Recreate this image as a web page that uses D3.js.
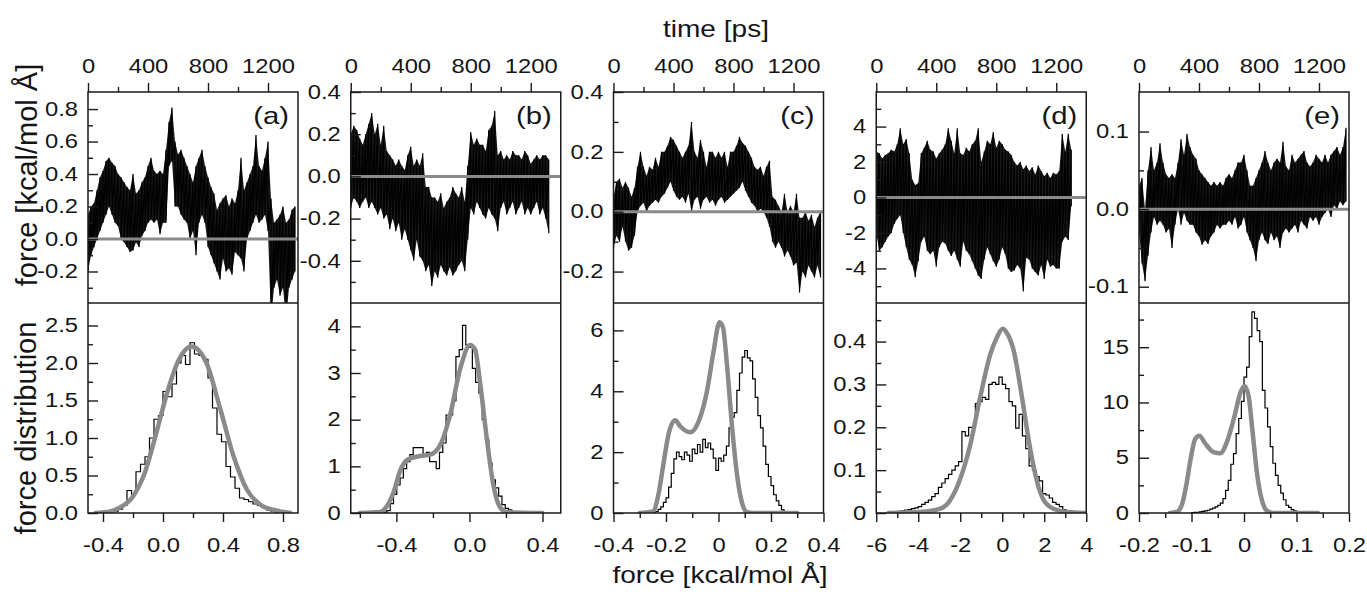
<!DOCTYPE html>
<html>
<head>
<meta charset="utf-8">
<script src="https://cdn.jsdelivr.net/npm/d3@7"></script>
<style>
  body { margin: 0; background: #fff; }
  text { font-family: "Liberation Sans", Arial, sans-serif; fill: #151515; }
  .sx { transform-box: fill-box; transform-origin: center; transform: scaleX(1.22); }
  .sxr { transform-box: fill-box; transform-origin: right center; transform: scaleX(1.22); }
</style>
</head>
<body>
<svg id="chart" width="1367" height="592"></svg>
<script>
// force traces: upper / lower envelope read every 20 ps
const tStep = 20;

const traceAHi = [0.15,0.2,0.22,0.3,0.38,0.42,0.48,0.5,0.47,0.45,
  0.4,0.38,0.35,0.32,0.3,0.4,0.28,0.3,0.35,0.38,
  0.45,0.5,0.42,0.4,0.42,0.4,0.55,0.72,0.81,0.6,
  0.52,0.55,0.5,0.45,0.4,0.35,0.45,0.5,0.55,0.45,
  0.38,0.32,0.28,0.18,0.22,0.25,0.27,0.2,0.25,0.22,
  0.3,0.5,0.3,0.35,0.4,0.45,0.64,0.45,0.42,0.5,
  0.6,0.25,0.1,0.12,0.15,0.2,0.1,0.12,0.18,0.2];
const traceALo = [-0.2,-0.1,-0.05,0.0,0.05,0.1,0.15,0.2,0.15,0.1,
  0.08,0.0,-0.02,-0.05,-0.08,-0.07,-0.02,-0.05,0.02,0.05,
  0.1,0.12,0.1,0.12,0.03,0.1,0.1,0.45,0.48,0.2,
  0.2,0.15,0.12,0.1,0.0,0.05,-0.1,0.1,0.15,0.1,
  -0.05,-0.1,-0.15,-0.2,-0.25,-0.12,-0.2,-0.18,-0.22,-0.08,
  -0.1,-0.12,-0.2,0.0,0.05,0.1,0.15,0.1,0.12,0.15,
  0.05,-0.5,-0.3,-0.25,-0.35,-0.3,-0.5,-0.3,-0.25,-0.2];

const traceBHi = [0.2,0.24,0.22,0.18,0.15,0.2,0.25,0.3,0.2,0.25,
  0.15,0.24,0.12,0.1,0.08,0.05,0.08,0.05,0.03,0.1,
  0.14,0.05,0.08,0.05,0.11,-0.05,-0.05,-0.1,-0.1,-0.12,
  -0.08,-0.15,-0.12,-0.1,-0.05,-0.08,-0.1,-0.05,-0.12,0.05,
  0.21,0.15,0.18,0.15,0.15,0.12,0.22,0.24,0.31,0.1,
  0.12,0.08,0.1,0.08,0.12,0.1,0.1,0.08,0.12,0.1,
  0.06,0.08,0.1,0.08,0.1,0.1,0.08];
const traceBLo = [-0.15,-0.1,-0.12,-0.15,-0.12,-0.1,-0.15,-0.12,-0.15,-0.18,
  -0.15,-0.2,-0.18,-0.25,-0.2,-0.26,-0.22,-0.3,-0.25,-0.3,
  -0.35,-0.4,-0.3,-0.38,-0.4,-0.45,-0.42,-0.52,-0.45,-0.48,
  -0.42,-0.45,-0.47,-0.43,-0.47,-0.45,-0.42,-0.4,-0.45,-0.3,
  -0.15,-0.18,-0.12,-0.15,-0.18,-0.2,-0.15,-0.18,-0.2,-0.26,
  -0.15,-0.12,-0.18,-0.15,-0.12,-0.18,-0.15,-0.12,-0.18,-0.15,
  -0.18,-0.15,-0.12,-0.18,-0.15,-0.2,-0.27];

const traceCHi = [0.05,0.1,0.11,0.08,0.1,0.08,0.05,0.08,0.15,0.2,
  0.15,0.12,0.15,0.14,0.18,0.15,0.2,0.2,0.22,0.25,
  0.24,0.22,0.2,0.18,0.2,0.22,0.3,0.2,0.18,0.24,
  0.2,0.15,0.2,0.2,0.18,0.2,0.18,0.2,0.15,0.2,
  0.2,0.22,0.25,0.23,0.22,0.2,0.18,0.15,0.14,0.15,
  0.12,0.15,0.17,0.05,0.04,0.02,0.0,0.06,0.0,0.02,
  0.0,0.06,-0.02,-0.02,0.0,-0.03,-0.01,-0.05,-0.02,0.0];
const traceCLo = [-0.12,-0.08,-0.1,-0.05,-0.1,-0.13,-0.12,-0.08,0.0,0.02,
  0.03,0.0,0.02,0.03,0.04,0.03,0.05,0.06,0.08,0.1,
  0.07,0.05,0.04,0.05,0.03,0.06,0.0,0.04,0.05,0.01,
  0.04,0.05,0.03,0.04,0.02,0.04,0.05,0.03,0.04,0.05,
  0.06,0.07,0.08,0.1,0.07,0.05,0.03,0.02,0.0,0.01,
  0.0,-0.02,-0.05,-0.1,-0.12,-0.1,-0.12,-0.15,-0.13,-0.15,
  -0.18,-0.17,-0.27,-0.2,-0.22,-0.18,-0.2,-0.22,-0.18,-0.22];

const traceDHi = [2.6,2.5,2.2,2.4,2.5,2.7,2.6,3.0,3.9,3.0,
  3.3,2.5,1.0,0.7,0.8,2.5,2.8,3.2,2.7,2.6,
  2.2,2.5,2.7,3.0,3.9,3.2,2.5,3.9,2.5,2.4,
  2.8,2.6,3.0,3.2,3.9,2.0,2.6,3.2,3.0,3.7,
  2.8,3.2,3.0,2.7,2.6,2.4,2.0,1.8,2.0,1.6,
  1.8,1.5,1.7,1.3,1.8,1.5,1.2,1.4,1.1,1.4,
  1.3,1.5,3.6,2.6,3.6,2.7];
const traceDLo = [-2.0,-3.0,-2.8,-2.5,-2.2,-2.0,-1.5,-1.2,-1.0,-2.0,
  -2.8,-3.5,-3.8,-4.5,-3.6,-2.5,-2.2,-3.0,-3.2,-3.0,
  -3.9,-2.8,-2.5,-2.6,-3.0,-3.3,-3.0,-3.5,-3.9,-2.5,
  -3.0,-3.2,-3.6,-4.0,-4.4,-4.6,-3.5,-2.8,-3.2,-3.6,
  -3.9,-3.5,-2.8,-3.2,-4.0,-4.2,-4.1,-3.8,-4.0,-5.3,
  -3.4,-3.5,-4.0,-4.2,-4.4,-3.8,-4.6,-3.5,-3.9,-3.8,
  -4.0,-4.0,-2.5,-2.2,-2.4,-0.5];

const traceEHi = [0.03,0.04,0.0,0.05,0.08,0.05,0.06,0.085,0.06,0.045,
  0.04,0.045,0.04,0.06,0.09,0.07,0.097,0.08,0.07,0.065,
  0.05,0.045,0.04,0.035,0.03,0.035,0.03,0.035,0.03,0.04,
  0.045,0.04,0.05,0.06,0.06,0.07,0.05,0.03,0.03,0.04,
  0.05,0.06,0.075,0.06,0.05,0.06,0.065,0.06,0.087,0.055,
  0.05,0.07,0.06,0.065,0.07,0.075,0.06,0.055,0.06,0.07,
  0.065,0.06,0.07,0.06,0.07,0.075,0.08,0.07,0.08,0.105];
const traceELo = [-0.03,-0.07,-0.093,-0.06,-0.03,-0.01,-0.02,-0.015,-0.02,-0.03,
  -0.025,-0.05,-0.02,0.0,-0.02,-0.005,-0.015,-0.02,-0.02,-0.03,
  -0.035,-0.046,-0.04,-0.045,-0.035,-0.03,-0.02,-0.025,-0.02,-0.02,
  -0.015,-0.02,-0.01,-0.025,-0.02,-0.01,-0.03,-0.04,-0.05,-0.067,
  -0.04,-0.03,-0.04,-0.045,-0.03,-0.04,-0.035,-0.05,-0.03,-0.025,
  -0.03,-0.025,-0.02,-0.03,-0.015,-0.02,-0.025,-0.01,-0.015,-0.01,
  -0.02,-0.01,-0.005,0.0,-0.01,0.005,0.0,0.01,0.005,0.01];

// force histograms: first bin edge, bin width, heights
const histAStart = -0.33, histAWidth = 0.03;
const histA = [0.02,0.05,0.1,0.3,0.25,0.55,0.65,0.75,1.0,1.25,1.3,1.62,1.55,1.72,2.0,2.1,1.98,2.27,
  2.12,2.1,2.05,1.8,1.4,1.05,0.95,0.62,0.48,0.33,0.2,0.18,0.15,0.12,0.1,0.07,0.04,0.02];
const histBStart = -0.47, histBWidth = 0.018;
const histB = [0.02,0.05,0.2,0.4,0.6,0.75,0.95,1.1,1.25,1.4,1.4,1.4,1.25,1.3,1.1,1.1,0.95,1.3,1.5,2.1,
  2.1,2.4,3.35,3.5,4.02,3.6,3.55,3.1,2.8,2.57,2.0,1.57,1.07,0.71,0.54,0.36,0.18,0.1,0.07,0.02];
const histCStart = -0.25, histCWidth = 0.01;
const histC = [0.0,0.05,0.12,0.2,0.35,0.5,0.85,1.3,1.78,2.0,1.85,1.75,2.0,1.9,1.7,2.1,1.95,2.25,2.0,2.42,
  2.15,2.3,2.1,1.8,1.4,1.8,1.7,1.9,2.2,2.8,3.15,3.3,4.03,4.6,5.12,5.34,5.1,5.0,4.41,3.8,
  3.2,2.8,2.2,1.6,1.2,0.9,0.6,0.4,0.25,0.1,0.02];
const histDStart = -5.44, histDWidth = 0.16;
const histD = [0.0,0.002,0.003,0.004,0.005,0.007,0.008,0.01,0.012,0.015,
  0.02,0.025,0.03,0.038,0.045,0.06,0.07,0.08,0.09,0.1,
  0.11,0.12,0.19,0.18,0.2,0.2,0.255,0.26,0.27,0.265,
  0.3,0.305,0.3,0.317,0.3,0.29,0.26,0.25,0.198,0.23,
  0.18,0.15,0.11,0.1,0.085,0.075,0.045,0.042,0.035,0.025,
  0.02,0.015,0.008,0.005];
const histEStart = -0.1, histEWidth = 0.005;
const histE = [0.03,0.05,0.07,0.1,0.15,0.2,0.25,0.35,0.45,0.55,
  0.7,0.9,1.3,2.05,2.96,4.41,5.38,7.19,8.55,10.1,
  12.3,13.2,15.95,18.2,17.6,16.5,15.5,11.1,9.5,7.8,
  6.0,4.5,3.4,2.5,1.8,1.2,0.7,0.5,0.3,0.2,
  0.1,0.05];

// model distributions (grey curves)
const fitAX = [-0.45,-0.35,-0.3,-0.2,-0.13,-0.04,0.02,0.1,0.19,0.29,0.38,0.47,0.56,0.65,0.74,0.85];
const fitAY = [0,0.02,0.06,0.22,0.49,1.1,1.55,2.02,2.22,2.0,1.4,0.76,0.31,0.11,0.04,0];
const fitBX = [-0.6,-0.49,-0.452,-0.415,-0.38,-0.335,-0.27,-0.216,-0.161,-0.106,-0.05,0.003,0.031,0.058,0.095,0.131,0.168,0.204,0.4];
const fitBY = [0,0.02,0.15,0.45,0.9,1.15,1.22,1.25,1.45,2.1,3.1,3.6,3.5,2.8,1.6,0.6,0.12,0.02,0];
const fitCX = [-0.3,-0.25,-0.229,-0.21,-0.19,-0.165,-0.146,-0.108,-0.076,-0.044,-0.019,0.004,0.017,0.032,0.051,0.07,0.089,0.108,0.133,0.3];
const fitCY = [0,0.05,0.6,1.6,2.6,3.05,2.85,2.65,3.0,4.0,5.3,6.27,6.1,4.9,2.9,1.3,0.35,0.03,0,0];
const fitDX = [-5.41,-3.75,-2.95,-2.48,-2.0,-1.52,-1.05,-0.57,-0.25,0.015,0.22,0.54,0.94,1.33,1.73,2.13,2.76,3.95];
const fitDY = [0,0.003,0.01,0.03,0.08,0.16,0.27,0.37,0.41,0.43,0.42,0.38,0.27,0.15,0.06,0.02,0.005,0];
const fitEX = [-0.141,-0.128,-0.118,-0.11,-0.102,-0.093,-0.085,-0.074,-0.058,-0.045,-0.032,-0.019,-0.006,0.001,0.009,0.016,0.025,0.035,0.045,0.058,0.141];
const fitEY = [0,0.1,0.8,2.5,4.8,6.7,7.0,6.3,5.5,5.4,6.5,8.6,11.0,11.5,10.5,7.5,3.5,1.0,0.15,0,0];

// ticks
const timeTicks = [0, 400, 800, 1200];
const timeMinor = [200, 600, 1000];
const tags = ['(a)', '(b)', '(c)', '(d)', '(e)'];

const panels = [
  {hi: traceAHi, lo: traceALo, fDom: [-0.394, 0.905], fTicks: [-0.2,0,0.2,0.4,0.6,0.8], fMinor: [-0.3,-0.1,0.1,0.3,0.5,0.7], fFmt: '.1f',
   hist: histA, hStart: histAStart, hWidth: histAWidth, fitX: fitAX, fitY: fitAY,
   xDom: [-0.5, 0.9], xTicks: [-0.4,0,0.4,0.8], xMinor: [-0.2,0.2,0.6], xFmt: '.1f',
   yDom: [0, 2.8], yTicks: [0,0.5,1,1.5,2,2.5], yMinor: [0.25,0.75,1.25,1.75,2.25], yFmt: '.1f'},
  {hi: traceBHi, lo: traceBLo, fDom: [-0.6, 0.4], fTicks: [-0.4,-0.2,0,0.2,0.4], fMinor: [-0.5,-0.3,-0.1,0.1,0.3], fFmt: '.1f',
   hist: histB, hStart: histBStart, hWidth: histBWidth, fitX: fitBX, fitY: fitBY,
   xDom: [-0.65, 0.5], xTicks: [-0.4,0,0.4], xMinor: [-0.6,-0.2,0.2], xFmt: '.1f',
   yDom: [0, 4.5], yTicks: [0,1,2,3,4], yMinor: [0.5,1.5,2.5,3.5], yFmt: 'd'},
  {hi: traceCHi, lo: traceCLo, fDom: [-0.305, 0.4], fTicks: [-0.2,0,0.2,0.4], fMinor: [-0.1,0.1,0.3], fFmt: '.1f',
   hist: histC, hStart: histCStart, hWidth: histCWidth, fitX: fitCX, fitY: fitCY,
   xDom: [-0.4, 0.4], xTicks: [-0.4,-0.2,0,0.2,0.4], xMinor: [-0.3,-0.1,0.1,0.3], xFmt: '~g',
   yDom: [0, 6.9], yTicks: [0,2,4,6], yMinor: [1,3,5], yFmt: 'd'},
  {hi: traceDHi, lo: traceDLo, fDom: [-5.95, 5.95], fTicks: [-4,-2,0,2,4], fMinor: [-5,-3,-1,1,3,5], fFmt: 'd',
   hist: histD, hStart: histDStart, hWidth: histDWidth, fitX: fitDX, fitY: fitDY,
   xDom: [-6, 4], xTicks: [-6,-4,-2,0,2,4], xMinor: [-5,-3,-1,1,3], xFmt: 'd',
   yDom: [0, 0.49], yTicks: [0,0.1,0.2,0.3,0.4], yMinor: [0.05,0.15,0.25,0.35,0.45], yFmt: '~g'},
  {hi: traceEHi, lo: traceELo, fDom: [-0.121, 0.151], fTicks: [-0.1,0,0.1], fMinor: [-0.05,0.05], fFmt: '.1f',
   hist: histE, hStart: histEStart, hWidth: histEWidth, fitX: fitEX, fitY: fitEY,
   xDom: [-0.2, 0.2], xTicks: [-0.2,-0.1,0,0.1,0.2], xMinor: [-0.15,-0.05,0.05,0.15], xFmt: '~g',
   yDom: [0, 19], yTicks: [0,5,10,15], yMinor: [2.5,7.5,12.5,17.5], yFmt: 'd'}
];

const fmt = d3.formatLocale({decimal: '.', thousands: ',', grouping: [3], currency: ['', ''], minus: '-'}).format;

const svg = d3.select('#chart');
const panelW = 210, yTop = 92, yMid = 303, yBot = 513;
const grey = '#8a8a8a', ink = '#1a1a1a';

function styleAxis(sel, cls) {
  sel.select('.domain').remove();
  sel.selectAll('line').attr('stroke', ink).attr('stroke-width', 1.4);
  sel.selectAll('text').attr('font-size', 19.5).attr('fill', ink)
    .attr('font-family', '"Liberation Sans", Arial, sans-serif')
    .attr('class', cls);
}

panels.forEach((p, i) => {
  const g = svg.append('g').attr('transform', `translate(${88 + i * 262.75},0)`);

  const tx = d3.scaleLinear().domain([0, 1400]).range([0, panelW]);
  const fy = d3.scaleLinear().domain(p.fDom).range([yMid, yTop]);
  const hx = d3.scaleLinear().domain(p.xDom).range([0, panelW]);
  const hy = d3.scaleLinear().domain(p.yDom).range([yBot, yMid]);

  g.append('clipPath').attr('id', 'ct' + i)
    .append('rect').attr('x', 0).attr('y', yTop).attr('width', panelW).attr('height', yMid - yTop);
  g.append('clipPath').attr('id', 'cb' + i)
    .append('rect').attr('x', 0).attr('y', yMid).attr('width', panelW).attr('height', yBot - yMid);

  // time trace: dense band between the envelopes, plus the spikes
  const band = p.hi.map((h, j) => [j * tStep, h, p.lo[j]]);
  g.append('path').attr('clip-path', `url(#ct${i})`)
    .attr('d', d3.area().x(d => tx(d[0])).y0(d => fy(d[2])).y1(d => fy(d[1]))(band))
    .attr('fill', '#000').attr('fill-opacity', 0.9);

  const pts = [];
  p.hi.forEach((h, j) => { pts.push([j * tStep, h]); pts.push([j * tStep, p.lo[j]]); });
  g.append('path').attr('clip-path', `url(#ct${i})`)
    .attr('d', d3.line().x(d => tx(d[0])).y(d => fy(d[1]))(pts))
    .attr('fill', 'none').attr('stroke', '#000').attr('stroke-width', 1.2);

  g.append('line').attr('x1', 0).attr('x2', panelW).attr('y1', fy(0)).attr('y2', fy(0))
    .attr('stroke', grey).attr('stroke-width', 3);

  // histogram
  const steps = [[p.hStart, 0]];
  p.hist.forEach((v, j) => steps.push([p.hStart + j * p.hWidth, v]));
  steps.push([p.hStart + p.hist.length * p.hWidth, 0]);
  g.append('path').attr('clip-path', `url(#cb${i})`)
    .attr('d', d3.line().curve(d3.curveStepAfter).x(d => hx(d[0])).y(d => hy(d[1]))(steps))
    .attr('fill', 'none').attr('stroke', '#000').attr('stroke-width', 1.2);

  g.append('path').attr('clip-path', `url(#cb${i})`)
    .attr('d', d3.line().curve(d3.curveMonotoneX).x(d => hx(d)).y((d, j) => hy(p.fitY[j]))(p.fitX))
    .attr('fill', 'none').attr('stroke', grey).attr('stroke-width', 4.5)
    .attr('stroke-linejoin', 'round').attr('stroke-linecap', 'round');

  // frame
  g.append('rect').attr('x', 0).attr('y', yTop).attr('width', panelW).attr('height', yBot - yTop)
    .attr('fill', 'none').attr('stroke', ink).attr('stroke-width', 1.5);
  g.append('line').attr('x1', 0).attr('x2', panelW).attr('y1', yMid).attr('y2', yMid)
    .attr('stroke', ink).attr('stroke-width', 1.5);

  // time axis on top
  g.append('g').attr('transform', `translate(0,${yTop})`)
    .call(d3.axisTop(tx).tickValues(timeTicks).tickSize(9).tickPadding(10).tickFormat(fmt('d')))
    .call(s => styleAxis(s, 'sx'));
  g.append('g').attr('transform', `translate(0,${yTop})`)
    .call(d3.axisTop(tx).tickValues(timeMinor).tickSize(5).tickFormat(''))
    .call(s => styleAxis(s, ''));

  // force axis (upper)
  g.append('g')
    .call(d3.axisLeft(fy).tickValues(p.fTicks).tickSize(-10).tickPadding(10).tickFormat(fmt(p.fFmt)))
    .call(s => styleAxis(s, 'sxr'));
  g.append('g')
    .call(d3.axisLeft(fy).tickValues(p.fMinor).tickSize(-5).tickFormat(''))
    .call(s => styleAxis(s, ''));

  // distribution axis (lower)
  g.append('g')
    .call(d3.axisLeft(hy).tickValues(p.yTicks).tickSize(-10).tickPadding(10).tickFormat(fmt(p.yFmt)))
    .call(s => styleAxis(s, 'sxr'));
  g.append('g')
    .call(d3.axisLeft(hy).tickValues(p.yMinor).tickSize(-5).tickFormat(''))
    .call(s => styleAxis(s, ''));

  g.append('g').attr('transform', `translate(0,${yBot})`)
    .call(d3.axisBottom(hx).tickValues(p.xTicks).tickSize(9).tickPadding(16).tickFormat(fmt(p.xFmt)))
    .call(s => styleAxis(s, 'sx'));
  g.append('g').attr('transform', `translate(0,${yBot})`)
    .call(d3.axisBottom(hx).tickValues(p.xMinor).tickSize(5).tickFormat(''))
    .call(s => styleAxis(s, ''));

  g.append('text').attr('class', 'sxr').attr('x', panelW - 9).attr('y', 124)
    .attr('text-anchor', 'end').attr('font-size', 24).text(tags[i]);
});

svg.append('text').attr('class', 'sx').attr('x', 716).attr('y', 37)
  .attr('text-anchor', 'middle').attr('font-size', 23).text('time [ps]');
svg.append('text').attr('class', 'sx').attr('x', 720).attr('y', 583)
  .attr('text-anchor', 'middle').attr('font-size', 23).text('force [kcal/mol Å]');
svg.append('text').attr('transform', 'translate(37,175) rotate(-90)')
  .attr('text-anchor', 'middle').attr('font-size', 29).text('force [kcal/mol Å]');
svg.append('text').attr('transform', 'translate(36,428) rotate(-90)')
  .attr('text-anchor', 'middle').attr('font-size', 29).text('force distribution');
</script>
</body>
</html>
